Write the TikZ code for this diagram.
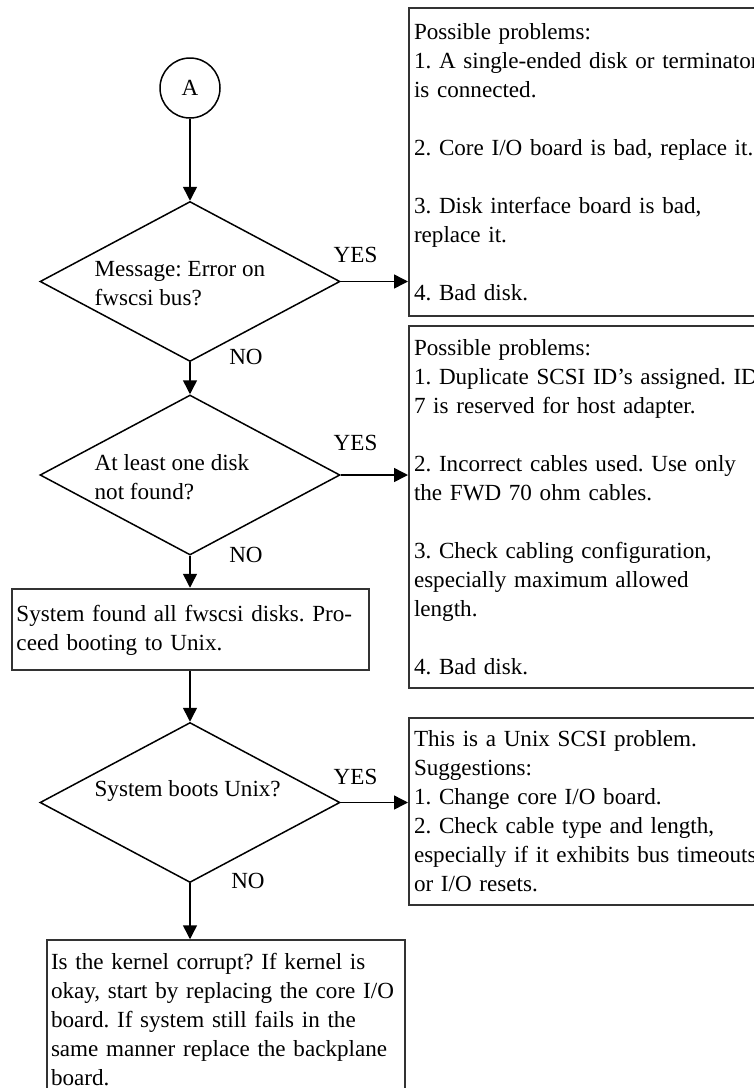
\documentclass[tikz,border=0pt]{standalone}
\usepackage{fontspec}
\setmainfont{Liberation Serif}
\usetikzlibrary{positioning,arrows.meta,shapes.geometric}
\frenchspacing

\begin{document}
\begin{tikzpicture}[
x=0.5pt, y=-0.5pt,
font=\fontsize{11.55pt}{14.5pt}\selectfont,
decision/.style={draw, diamond, line width=0.75pt, inner sep=0pt, minimum width=150pt, minimum height=80pt},
qtext/.style={anchor=west, align=left, inner sep=0pt},
box/.style={draw=black!80, line width=1pt, rectangle, align=left, inner xsep=2.5pt, inner ysep=0pt},
note/.style={box, anchor=north west, text width=185pt},
lbl/.style={inner sep=0pt},
arrow/.style={-{Triangle[length=7pt,width=7pt]}, line width=0.75pt},
node distance=16pt
]
\useasboundingbox (0,0) rectangle (754,1088);

% main column
\node[draw, circle, line width=0.75pt, minimum size=30pt, inner sep=0pt] (A) at (190,88) {A};
\node[decision, below=41pt of A] (err) {};
\node[decision, below=of err] (miss) {};
\node[box, below=of miss, text width=173.5pt, minimum height=40.5pt, inner ysep=6pt, text depth=16pt] (found) {System found all fwscsi disks. Pro-\\ceed booting to Unix.};
\node[decision, below=25.5pt of found] (boot) {};
\node[box, below=28pt of boot, xshift=18pt, inner xsep=2pt, text width=175pt, minimum height=79.5pt] (kernel) {Is the kernel corrupt? If kernel is\\okay, start by replacing the core I/O\\board. If system still fails in the\\same manner replace the backplane\\board.};

% questions
\node[qtext] (errq) at ([xshift=27.5pt, yshift=-1pt]err.west) {Message: Error on\\fwscsi bus?};
\node[qtext] (missq) at ([xshift=27.5pt, yshift=-1pt]miss.west) {At least one disk\\not found?};
\node[qtext] (bootq) at ([xshift=27.5pt, yshift=6pt]boot.west) {System boots Unix?};

% notes on the right
\node[note, minimum height=154pt] (probA) at (408,7) {Possible problems:\\1. A single-ended disk or terminator\\is connected.\\[14.5pt]2. Core I/O board is bad, replace it.\\[14.5pt]3. Disk interface board is bad,\\replace it.\\[14.5pt]4. Bad disk.};
\node[note, minimum height=181pt] (probB) at (408,325) {Possible problems:\\1. Duplicate SCSI ID's assigned. ID\\7 is reserved for host adapter.\\[14.5pt]2. Incorrect cables used. Use only\\the FWD 70 ohm cables.\\[14.5pt]3. Check cabling configuration,\\especially maximum allowed\\length.\\[14.5pt]4. Bad disk.};
\node[note, minimum height=93.5pt] (unix) at (408,717) {This is a Unix SCSI problem.\\Suggestions:\\1. Change core I/O board.\\2. Check cable type and length,\\especially if it exhibits bus timeouts\\or I/O resets.};

\draw[arrow] (A) -- (err);
\draw[arrow] (err) -- node[lbl, at start, xshift=28pt, yshift=2.5pt] (no1) {NO} (miss);
\draw[arrow] (err.east) -- node[lbl, pos=0.22, above=9pt] (yes1) {YES} (err.east -| probA.west);
\draw[arrow] (miss) -- node[lbl, at start, xshift=28pt, yshift=0.5pt] (no2) {NO} (found);
\draw[arrow] (miss.east) -- node[lbl, pos=0.22, above=12pt] (yes2) {YES} (miss.east -| probB.west);
\draw[arrow] (found) -- (boot);
\draw[arrow] (boot.east) -- node[lbl, pos=0.22, above=8.5pt] (yes3) {YES} (boot.east -| unix.west);
\draw[arrow] (boot.south) -- node[lbl, at start, xshift=29pt, yshift=1pt] (no3) {NO} (boot.south |- kernel.north);
\end{tikzpicture}
\end{document}
